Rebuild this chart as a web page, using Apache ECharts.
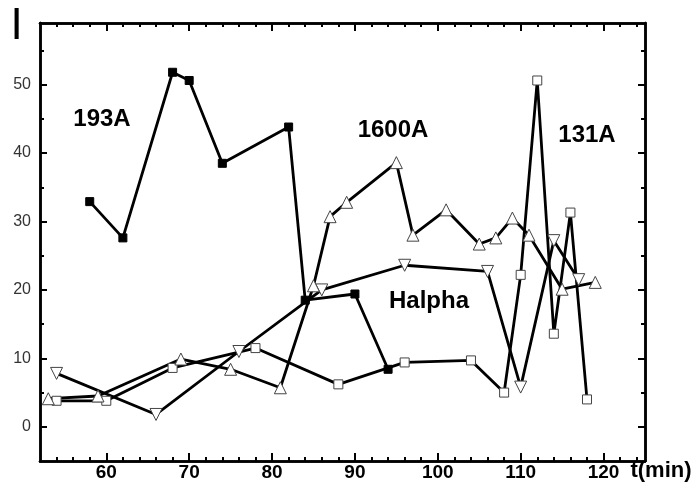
<!DOCTYPE html>
<html>
<head>
<meta charset="utf-8">
<script src="https://cdn.jsdelivr.net/npm/echarts@6/dist/echarts.min.js"></script>
<style>
  html, body { margin: 0; padding: 0; background: #fff; }
  #chart { width: 700px; height: 492px; }
</style>
</head>
<body>
<div id="chart"></div>
<script>
// 曲线数据
const t193 = [58, 62, 68, 70, 74, 82, 84, 90, 94]
const i193 = [32.9, 27.6, 51.8, 50.6, 38.5, 43.8, 18.5, 19.4, 8.4]

const t1600 = [53, 59, 69, 75, 81, 85, 87, 89, 95, 97, 101, 105, 107, 109, 111, 115, 119]
const i1600 = [4.1, 4.5, 9.9, 8.4, 5.7, 20.6, 30.7, 32.8, 38.6, 28.0, 31.7, 26.7, 27.6, 30.5, 28.0, 20.1, 21.1]

const t131 = [54, 60, 68, 78, 88, 96, 104, 108, 110, 112, 114, 116, 118]
const i131 = [3.8, 3.8, 8.6, 11.5, 6.2, 9.4, 9.7, 5.0, 22.2, 50.6, 13.6, 31.3, 4.0]

const tHa = [54, 66, 76, 86, 96, 106, 110, 114, 117]
const iHa = [7.8, 1.8, 11.0, 20.0, 23.6, 22.7, 5.8, 27.2, 21.5]

// 刻度
const xMajor = [60, 70, 80, 90, 100, 110, 120]
const xMinor = [54, 56, 58, 62, 64, 66, 68, 72, 74, 76, 78, 82, 84, 86, 88, 92, 94, 96, 98, 102, 104, 106, 108, 112, 114, 116, 118, 122, 124]
const yMajor = [0, 10, 20, 30, 40, 50]
const yMinor = [5, 15, 25, 35, 45, 55]

const zip = (xs, ys) => xs.map((x, k) => [x, ys[k]])

const FONT = '"Liberation Sans", Arial, sans-serif'
const lineBase = { show: true, onZero: false, lineStyle: { color: '#000', width: 2.5 } }

// 生成坐标轴（主刻度 / 次刻度）
const makeX = (position, ticks, len, withLabel) => ({
  type: 'value', position, min: 52, max: 125,
  axisLine: lineBase,
  axisTick: { show: true, inside: true, length: len, customValues: ticks, lineStyle: { color: '#000', width: 2 } },
  axisLabel: withLabel
    ? { show: true, customValues: ticks, margin: 2, color: '#000', fontSize: 19, fontWeight: 'bold', fontFamily: FONT }
    : { show: false },
  splitLine: { show: false }
})

const makeY = (position, ticks, len, withLabel) => ({
  type: 'value', position, min: -5, max: 59,
  axisLine: lineBase,
  axisTick: { show: true, inside: true, length: len, customValues: ticks, lineStyle: { color: '#000', width: 2 } },
  axisLabel: withLabel
    ? { show: true, customValues: ticks, margin: 9, color: '#333', fontSize: 16, fontFamily: FONT }
    : { show: false },
  splitLine: { show: false }
})

const lineSeries = (name, data, symbol, opts = {}) => ({
  name, type: 'line', data, symbol,
  symbolSize: opts.size || 9,
  symbolRotate: opts.rotate || 0,
  showAllSymbol: true,
  lineStyle: { color: '#000', width: 2.8 },
  itemStyle: { color: opts.fill || '#fff', borderColor: opts.border || '#444', borderWidth: 1 },
  z: opts.z || 2,
  animation: false
})

const label = (text, x, y, size, weight) => ({
  type: 'text', x, y,
  style: {
    text, fill: '#000', font: `${weight} ${size}px ${FONT}`,
    align: 'center', verticalAlign: 'middle'
  }
})

const chart = echarts.init(document.getElementById('chart'))
chart.setOption({
  animation: false,
  backgroundColor: '#fff',
  grid: { left: 40, right: 55, top: 23, bottom: 31 },
  xAxis: [
    makeX('bottom', xMajor, 8, true),
    makeX('bottom', xMinor, 4, false),
    makeX('top', xMajor, 8, false),
    makeX('top', xMinor, 4, false)
  ],
  yAxis: [
    makeY('left', yMajor, 7, true),
    makeY('left', yMinor, 4, false),
    makeY('right', yMajor, 7, false),
    makeY('right', yMinor, 4, false)
  ],
  series: [
    lineSeries('131A', zip(t131, i131), 'rect', { size: 9 }),
    lineSeries('Halpha', zip(tHa, iHa), 'triangle', { size: 12, rotate: 180 }),
    lineSeries('1600A', zip(t1600, i1600), 'triangle', { size: 12 }),
    lineSeries('193A', zip(t193, i193), 'rect', { size: 8, fill: '#000', border: '#000', z: 3 })
  ],
  graphic: [
    label('I', 16.5, 27, 44, 'normal'),
    label('193A', 102, 119, 24, 'bold'),
    label('1600A', 393, 130, 24, 'bold'),
    label('131A', 587, 135, 24, 'bold'),
    label('Halpha', 429, 301, 24, 'bold'),
    label('t(min)', 661, 471, 22, 'bold')
  ]
})
</script>
</body>
</html>
